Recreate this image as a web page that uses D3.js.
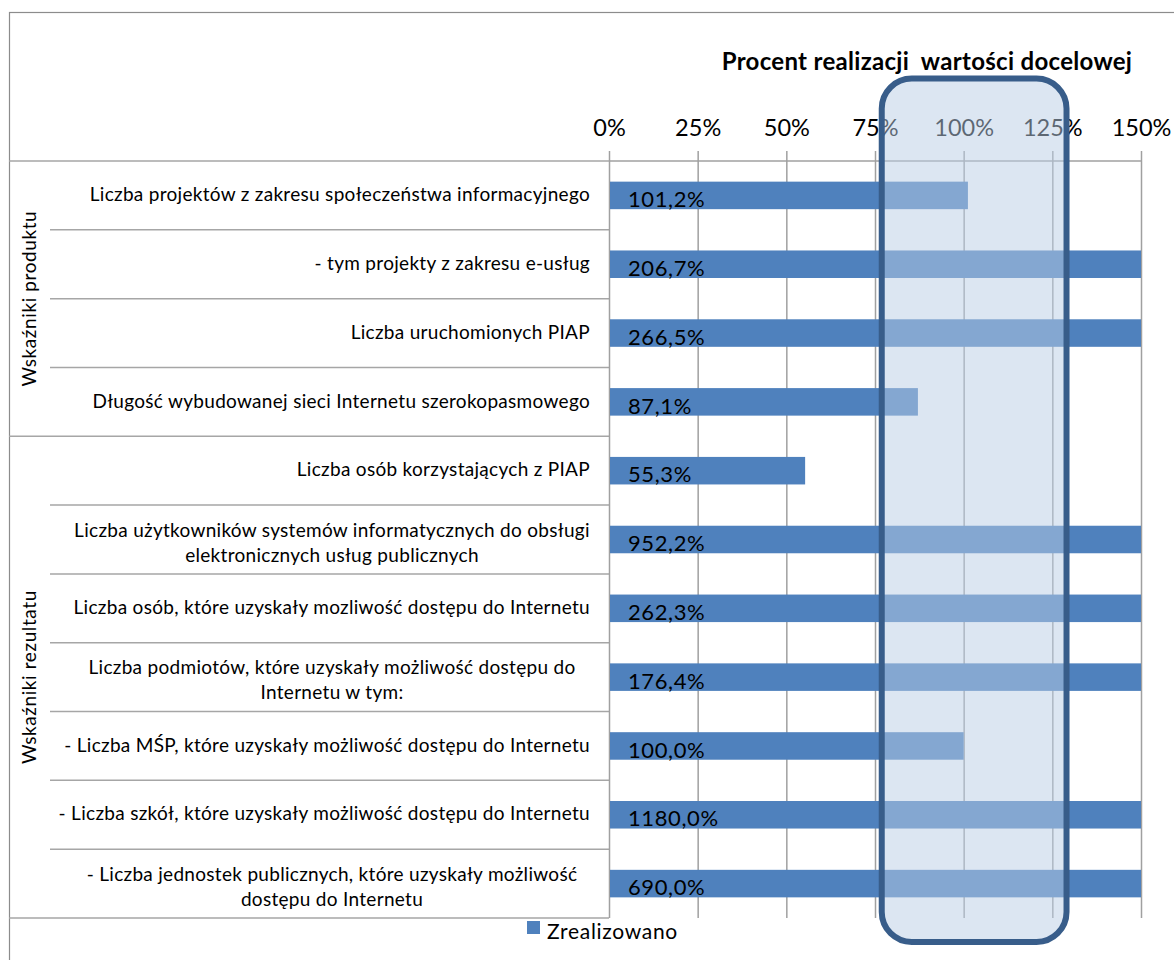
<!DOCTYPE html>
<html>
<head>
<meta charset="utf-8">
<script src="https://cdn.jsdelivr.net/npm/d3@7"></script>
<style>
  html, body { margin: 0; padding: 0; background: #ffffff; }
  svg { display: block; }
</style>
</head>
<body>
<svg id="chart" width="1174" height="960"></svg>
<script>
// ---------------- DATA ----------------
const categories = [
  "Liczba projektów z zakresu społeczeństwa informacyjnego",
  "- tym projekty z zakresu e-usług",
  "Liczba uruchomionych PIAP",
  "Długość wybudowanej sieci Internetu szerokopasmowego",
  "Liczba osób korzystających z PIAP",
  "Liczba użytkowników systemów informatycznych do obsługi\nelektronicznych usług publicznych",
  "Liczba osób, które uzyskały mozliwość dostępu do Internetu",
  "Liczba podmiotów, które uzyskały możliwość dostępu do\nInternetu w tym:",
  "- Liczba MŚP, które uzyskały możliwość dostępu do Internetu",
  "- Liczba szkół, które uzyskały możliwość dostępu do Internetu",
  "- Liczba jednostek publicznych, które uzyskały możliwość\ndostępu do Internetu"
];
const values = [101.2, 206.7, 266.5, 87.1, 55.3, 952.2, 262.3, 176.4, 100.0, 1180.0, 690.0];
const valueLabels = ["101,2%", "206,7%", "266,5%", "87,1%", "55,3%", "952,2%", "262,3%", "176,4%", "100,0%", "1180,0%", "690,0%"];
const groups = [
  { name: "Wskaźniki produktu", first: 0, last: 3 },
  { name: "Wskaźniki rezultatu", first: 4, last: 10 }
];
const tickValues = [0, 25, 50, 75, 100, 125, 150];
const tickLabels = ["0%", "25%", "50%", "75%", "100%", "125%", "150%"];
const axisDomain = [0, 150];
const highlightRange = [76.9, 129.0];   // target zone annotation (percent)
const seriesName = "Zrealizowano";
const chartTitle = "Procent realizacji  wartości docelowej";

// ---------------- LAYOUT ----------------
const svg = d3.select("#chart");
const FONT = "Lato, 'Open Sans', 'DejaVu Sans', sans-serif";
const plotLeft = 609, plotRight = 1141, plotTop = 161, plotBottom = 918;
const frameLeft = 9, frameTop = 12, groupColRight = 50;
const barColor = "#4f81bd";
const gridColor = "#a0a0a0";
const tableColor = "#a6a6a6";

const x = d3.scaleLinear().domain(axisDomain).range([plotLeft, plotRight]).clamp(true);
const y = d3.scaleBand().domain(d3.range(categories.length)).range([plotTop, plotBottom])
  .paddingInner(0.6).paddingOuter(0.3);
const step = y.step();
const rowTop = i => y(i) - step * 0.3;
const rowCenter = i => y(i) + y.bandwidth() / 2;

// outer frame
svg.append("rect")
  .attr("x", frameLeft + 0.5).attr("y", frameTop + 0.5)
  .attr("width", 1174 - frameLeft + 10).attr("height", 960 - frameTop + 10)
  .attr("fill", "none").attr("stroke", "#8c8c8c").attr("stroke-width", 1.2);

// table lines (left label area)
const tbl = svg.append("g");
tbl.append("line").attr("x1", frameLeft).attr("x2", plotLeft)
  .attr("y1", plotTop).attr("y2", plotTop).attr("stroke", tableColor).attr("stroke-width", 1.5);
d3.range(1, categories.length).forEach(i => {
  const isGroupBoundary = groups.some(g => g.first === i);
  tbl.append("line")
    .attr("x1", isGroupBoundary ? frameLeft : groupColRight).attr("x2", plotLeft)
    .attr("y1", rowTop(i)).attr("y2", rowTop(i))
    .attr("stroke", tableColor).attr("stroke-width", 1.5);
});
tbl.append("line").attr("x1", frameLeft).attr("x2", plotLeft)
  .attr("y1", plotBottom).attr("y2", plotBottom).attr("stroke", tableColor).attr("stroke-width", 1.5);

// axis (top) with ticks
const axisG = svg.append("g").attr("transform", `translate(0,${plotTop})`)
  .call(d3.axisTop(x).tickValues(tickValues).tickSize(10).tickFormat((d, i) => tickLabels[i]));
axisG.select(".domain").attr("stroke", gridColor).attr("stroke-width", 1.5)
  .attr("d", `M${plotLeft},0H${plotRight}`);
axisG.selectAll(".tick line").attr("stroke", gridColor).attr("stroke-width", 1.5);
axisG.selectAll(".tick text")
  .attr("font-family", FONT).attr("font-size", 23.5).attr("fill", "#000")
  .attr("y", -33).attr("dy", "0.35em");

// vertical gridlines
const grid = svg.append("g").attr("transform", `translate(0,${plotTop})`)
  .call(d3.axisBottom(x).tickValues(tickValues).tickSize(plotBottom - plotTop).tickFormat(""));
grid.select(".domain").remove();
grid.selectAll(".tick line").attr("stroke", gridColor).attr("stroke-width", 1.5);

// bars
svg.append("g").selectAll("rect").data(values).join("rect")
  .attr("x", x(0) + 1)
  .attr("y", (d, i) => y(i))
  .attr("width", d => x(d) - x(0) - 1)
  .attr("height", y.bandwidth())
  .attr("fill", barColor);

// bar value labels
svg.append("g").selectAll("text").data(valueLabels).join("text")
  .attr("x", x(0) + 19)
  .attr("y", (d, i) => rowCenter(i) + 4)
  .attr("dy", "0.35em")
  .attr("font-family", FONT).attr("font-size", 22).attr("letter-spacing", 0.6).attr("fill", "#000")
  .text(d => d);

// category labels
const labG = svg.append("g");
categories.forEach((c, i) => {
  const lines = c.split("\n");
  const n = lines.length;
  lines.forEach((ln, k) => {
    labG.append("text")
      .attr("x", n > 1 ? 332 : 590)
      .attr("text-anchor", n > 1 ? "middle" : "end")
      .attr("y", rowCenter(i) + (k - (n - 1) / 2) * 25 + (n > 1 ? 3 : -1))
      .attr("dy", "0.35em")
      .attr("font-family", FONT).attr("font-size", 19).attr("letter-spacing", 0.3).attr("fill", "#000")
      .text(ln);
  });
});

// group labels (vertical)
groups.forEach(g => {
  const cy = (rowTop(g.first) + rowTop(g.last) + step) / 2;
  svg.append("text")
    .attr("transform", `translate(29,${cy}) rotate(-90)`)
    .attr("text-anchor", "middle").attr("dy", "0.35em")
    .attr("font-family", FONT).attr("font-size", 19).attr("letter-spacing", 0.6).attr("fill", "#000")
    .text(g.name);
});

// title
svg.append("text")
  .attr("x", 927).attr("y", 62).attr("dy", "0.35em")
  .attr("text-anchor", "middle")
  .attr("font-family", FONT).attr("font-size", 24).attr("letter-spacing", 0.3)
  .attr("font-weight", "bold").attr("fill", "#000")
  .style("white-space", "pre")
  .text(chartTitle);

// legend
svg.append("rect").attr("x", 527).attr("y", 921).attr("width", 13).attr("height", 13).attr("fill", barColor);
svg.append("text").attr("x", 547).attr("y", 932).attr("dy", "0.35em")
  .attr("font-family", FONT).attr("font-size", 21).attr("letter-spacing", 0.7).attr("fill", "#000")
  .text(seriesName);

// highlight annotation (target zone)
svg.append("rect")
  .attr("x", x(highlightRange[0])).attr("y", 78.5)
  .attr("width", x(highlightRange[1]) - x(highlightRange[0]))
  .attr("height", 942 - 78.5)
  .attr("rx", 30).attr("ry", 30)
  .attr("fill", "#b9cde5").attr("fill-opacity", 0.5)
  .attr("stroke", "#385d8a").attr("stroke-width", 6);
</script>
</body>
</html>
